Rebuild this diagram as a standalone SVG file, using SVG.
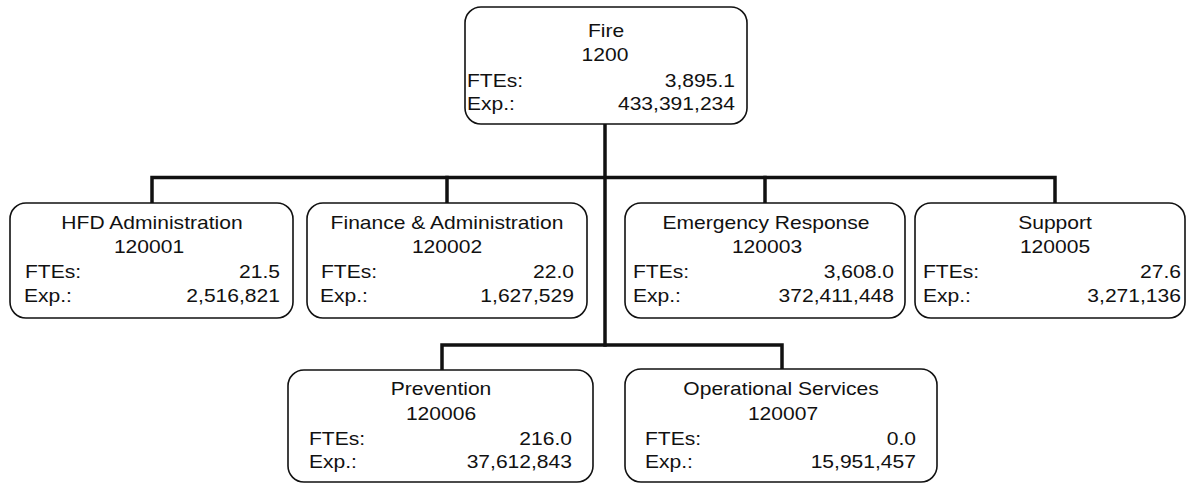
<svg xmlns="http://www.w3.org/2000/svg" width="1187" height="483" viewBox="0 0 1187 483">
<style>
.box{fill:#fff;stroke:#111;stroke-width:1.6}
.conn{fill:none;stroke:#111;stroke-width:3.5;stroke-linecap:square;stroke-linejoin:miter}
text{font-family:"Liberation Sans",Arial,sans-serif;font-size:18px;fill:#111}
.c{text-anchor:middle}
.r{text-anchor:end}
</style>
<rect width="1187" height="483" fill="#fff"/>
<g id="connectors">
<path class="conn" d="M605 124 V345"/>
<path class="conn" d="M152 203 V177.5 H1055 V203"/>
<path class="conn" d="M447 177.5 V203"/>
<path class="conn" d="M765 177.5 V203"/>
<path class="conn" d="M442 370 V345 H782 V369"/>
</g>
<g id="node-fire">
<rect class="box" x="465" y="7" width="282" height="117" rx="16"/>
<g transform="translate(606,36.5) scale(1.17,1)"><text class="c">Fire</text></g>
<g transform="translate(605,61) scale(1.17,1)"><text class="c">1200</text></g>
<g transform="translate(467,87) scale(1.17,1)"><text>FTEs:</text></g>
<g transform="translate(735,87) scale(1.17,1)"><text class="r">3,895.1</text></g>
<g transform="translate(467,110) scale(1.17,1)"><text>Exp.:</text></g>
<g transform="translate(735,110) scale(1.17,1)"><text class="r">433,391,234</text></g>
</g>
<g id="node-120001">
<rect class="box" x="10" y="203" width="283" height="115" rx="16"/>
<g transform="translate(152,229) scale(1.17,1)"><text class="c">HFD Administration</text></g>
<g transform="translate(149,253) scale(1.17,1)"><text class="c">120001</text></g>
<g transform="translate(25,278) scale(1.17,1)"><text>FTEs:</text></g>
<g transform="translate(280,278) scale(1.17,1)"><text class="r">21.5</text></g>
<g transform="translate(24,302) scale(1.17,1)"><text>Exp.:</text></g>
<g transform="translate(280,302) scale(1.17,1)"><text class="r">2,516,821</text></g>
</g>
<g id="node-120002">
<rect class="box" x="307" y="203" width="280" height="115" rx="16"/>
<g transform="translate(447,229) scale(1.17,1)"><text class="c">Finance &amp; Administration</text></g>
<g transform="translate(447,253) scale(1.17,1)"><text class="c">120002</text></g>
<g transform="translate(321,278) scale(1.17,1)"><text>FTEs:</text></g>
<g transform="translate(574,278) scale(1.17,1)"><text class="r">22.0</text></g>
<g transform="translate(320,302) scale(1.17,1)"><text>Exp.:</text></g>
<g transform="translate(574,302) scale(1.17,1)"><text class="r">1,627,529</text></g>
</g>
<g id="node-120003">
<rect class="box" x="625" y="203" width="280" height="115" rx="16"/>
<g transform="translate(766,229) scale(1.17,1)"><text class="c">Emergency Response</text></g>
<g transform="translate(767,253) scale(1.17,1)"><text class="c">120003</text></g>
<g transform="translate(633,278) scale(1.17,1)"><text>FTEs:</text></g>
<g transform="translate(894,278) scale(1.17,1)"><text class="r">3,608.0</text></g>
<g transform="translate(633,302) scale(1.17,1)"><text>Exp.:</text></g>
<g transform="translate(894,302) scale(1.17,1)"><text class="r">372,411,448</text></g>
</g>
<g id="node-120005">
<rect class="box" x="915" y="203" width="270" height="115" rx="16"/>
<g transform="translate(1055,229) scale(1.17,1)"><text class="c">Support</text></g>
<g transform="translate(1055,253) scale(1.17,1)"><text class="c">120005</text></g>
<g transform="translate(923,278) scale(1.17,1)"><text>FTEs:</text></g>
<g transform="translate(1181,278) scale(1.17,1)"><text class="r">27.6</text></g>
<g transform="translate(923,302) scale(1.17,1)"><text>Exp.:</text></g>
<g transform="translate(1181,302) scale(1.17,1)"><text class="r">3,271,136</text></g>
</g>
<g id="node-120006">
<rect class="box" x="288" y="370" width="305" height="112" rx="16"/>
<g transform="translate(441,395) scale(1.17,1)"><text class="c">Prevention</text></g>
<g transform="translate(441,420) scale(1.17,1)"><text class="c">120006</text></g>
<g transform="translate(309,445) scale(1.17,1)"><text>FTEs:</text></g>
<g transform="translate(572,445) scale(1.17,1)"><text class="r">216.0</text></g>
<g transform="translate(309,468) scale(1.17,1)"><text>Exp.:</text></g>
<g transform="translate(572,468) scale(1.17,1)"><text class="r">37,612,843</text></g>
</g>
<g id="node-120007">
<rect class="box" x="625" y="369" width="312" height="113" rx="16"/>
<g transform="translate(781,395) scale(1.17,1)"><text class="c">Operational Services</text></g>
<g transform="translate(783,420) scale(1.17,1)"><text class="c">120007</text></g>
<g transform="translate(645,445) scale(1.17,1)"><text>FTEs:</text></g>
<g transform="translate(916,445) scale(1.17,1)"><text class="r">0.0</text></g>
<g transform="translate(645,468) scale(1.17,1)"><text>Exp.:</text></g>
<g transform="translate(916,468) scale(1.17,1)"><text class="r">15,951,457</text></g>
</g>
</svg>
